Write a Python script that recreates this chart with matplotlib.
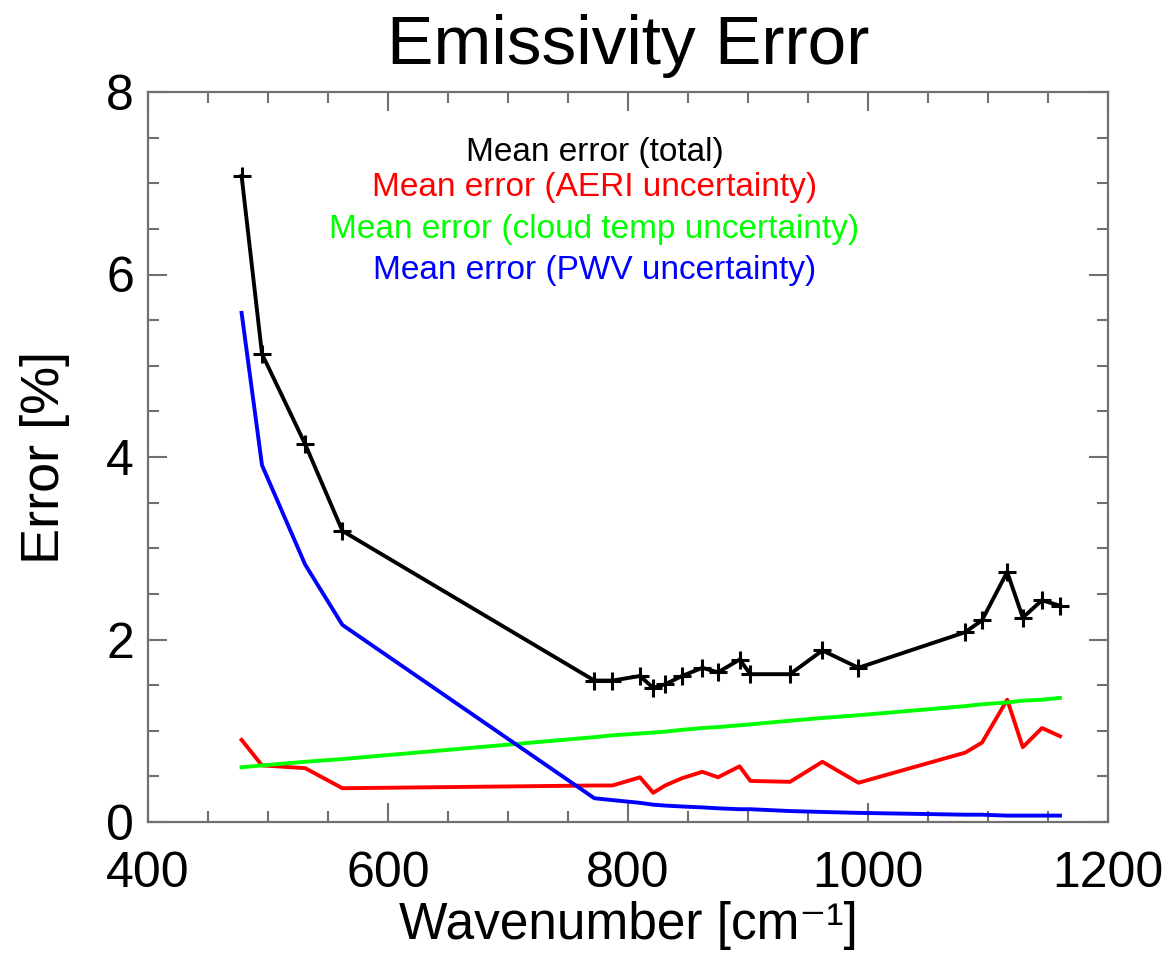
import numpy as np
import matplotlib
matplotlib.use("Agg")
import matplotlib.pyplot as plt

plt.rcParams['font.family'] = ['Liberation Sans', 'DejaVu Sans']

# wavenumber points [cm-1]
wn = [478, 495, 531, 562, 772, 787, 810, 821, 831, 845, 862, 875, 893, 902,
      935, 962, 992, 1081, 1095, 1116, 1129, 1145, 1160]

# mean error (total), %
err_total = [7.08, 5.13, 4.14, 3.19, 1.55, 1.55, 1.60, 1.47, 1.51, 1.60, 1.69, 1.64,
             1.78, 1.62, 1.62, 1.88, 1.69, 2.08, 2.21, 2.74, 2.24, 2.43, 2.37]
# AERI uncertainty
err_aeri = [0.90, 0.62, 0.59, 0.37, 0.40, 0.40, 0.49, 0.32, 0.40, 0.48, 0.55, 0.49,
            0.61, 0.45, 0.44, 0.66, 0.43, 0.76, 0.87, 1.34, 0.82, 1.03, 0.94]
# cloud temperature uncertainty
err_cloud = [0.60, 0.62, 0.66, 0.69, 0.93, 0.95, 0.97, 0.98, 0.99, 1.01, 1.03, 1.04,
             1.06, 1.07, 1.11, 1.14, 1.17, 1.27, 1.29, 1.31, 1.33, 1.34, 1.36]
# PWV uncertainty
err_pwv = [5.58, 3.91, 2.82, 2.16, 0.26, 0.24, 0.21, 0.19, 0.18, 0.17, 0.16, 0.15,
           0.14, 0.14, 0.12, 0.11, 0.10, 0.08, 0.08, 0.07, 0.07, 0.07, 0.07]

labels = ["Mean error (total)", "Mean error (AERI uncertainty)",
          "Mean error (cloud temp uncertainty)", "Mean error (PWV uncertainty)"]
colors = ["black", "#ff0000", "#00ff00", "#0000ff"]

W, H = 1176, 961
fig = plt.figure(figsize=(W / 100, H / 100), dpi=100)
ax = fig.add_axes([148 / W, (H - 822) / H, 960 / W, 730 / H])

ax.plot(wn, err_aeri, color=colors[1], lw=2.8)
ax.plot(wn, err_cloud, color=colors[2], lw=2.8)
ax.plot(wn, err_pwv, color=colors[3], lw=2.8)
ax.plot(wn, err_total, color=colors[0], lw=2.8, marker='+', ms=13, mew=2.2)

ax.set_xlim(400, 1200)
ax.set_ylim(0, 8)
ax.set_xticks([400, 600, 800, 1000, 1200])
ax.set_yticks([0, 2, 4, 6, 8])
ax.set_xticks(np.arange(400, 1201, 50), minor=True)
ax.set_yticks(np.arange(0, 8.01, 0.5), minor=True)

for s in ax.spines.values():
    s.set_color('#707070')
    s.set_linewidth(1.6)
ax.tick_params(which='both', direction='in', top=True, right=True,
               color='#707070', width=1.5, labelsize=36)
ax.tick_params(which='major', length=14)
ax.tick_params(which='minor', length=8)
ax.tick_params(axis='x', pad=21)
ax.tick_params(axis='y', pad=10)

ax.set_title("Emissivity Error", fontsize=50, pad=20)
ax.set_xlabel("Wavenumber [cm\u207b\u00b9]", fontsize=37, labelpad=3)
ax.set_ylabel("Error [%]", fontsize=39, labelpad=26)

ty = [7.34, 6.95, 6.49, 6.04]
for lab, c, y in zip(labels, colors, ty):
    ax.text(772, y, lab, color=c, fontsize=24, ha='center', va='center')

fig.savefig("out.png", dpi=100)
